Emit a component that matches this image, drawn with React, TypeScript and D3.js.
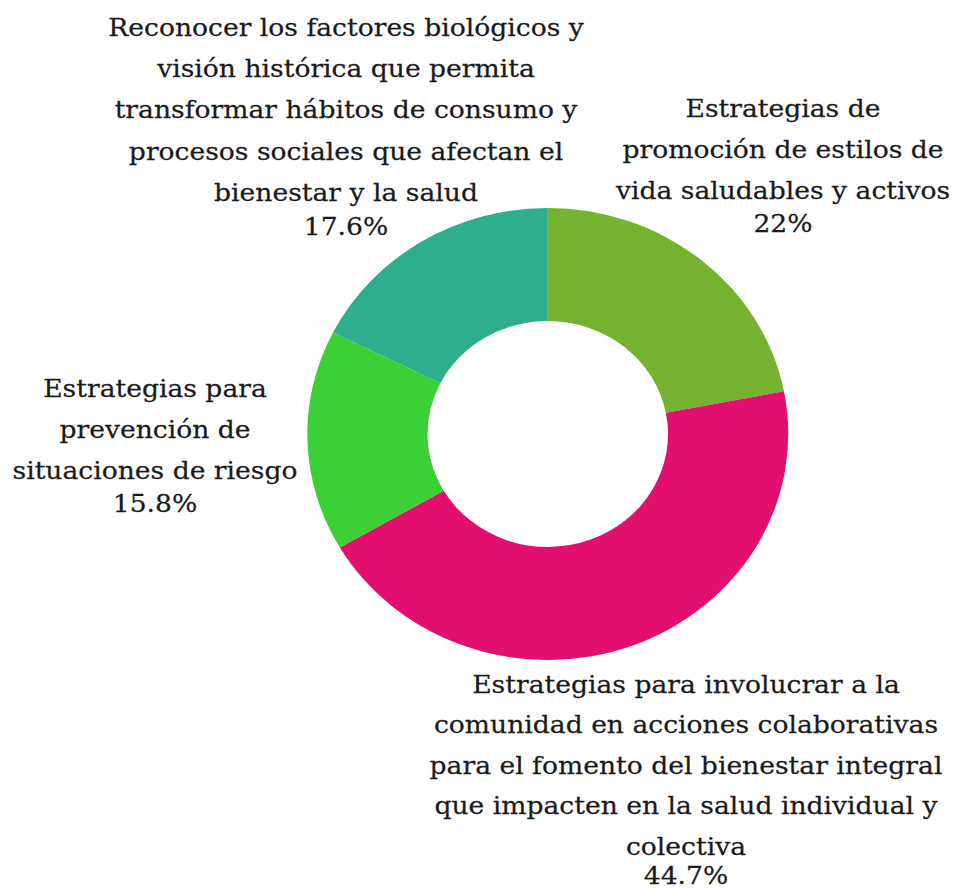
import React from "react";
import * as d3 from "d3";

const categories = [
  "Estrategias de promoción de estilos de vida saludables y activos",
  "Estrategias para involucrar a la comunidad en acciones colaborativas para el fomento del bienestar integral que impacten en la salud individual y colectiva",
  "Estrategias para prevención de situaciones de riesgo",
  "Reconocer los factores biológicos y visión histórica que permita transformar hábitos de consumo y procesos sociales que afectan el bienestar y la salud",
];
const values = [22, 44.7, 15.8, 17.6];
const valueLabels = ["22%", "44.7%", "15.8%", "17.6%"];
const labelLines = [
  ["Estrategias de", "promoción de estilos de", "vida saludables y activos"],
  [
    "Estrategias para involucrar a la",
    "comunidad en acciones colaborativas",
    "para el fomento del bienestar integral",
    "que impacten en la salud individual y",
    "colectiva",
  ],
  ["Estrategias para", "prevención de", "situaciones de riesgo"],
  [
    "Reconocer los factores biológicos y",
    "visión histórica que permita",
    "transformar hábitos de consumo y",
    "procesos sociales que afectan el",
    "bienestar y la salud",
  ],
];
const colors = ["#75B22F", "#E30F6E", "#3AD036", "#2FAE8E"];

const W = 954;
const H = 890;
const cx = 547.8;
const cy = 434;
const outerR = 226;
const innerR = 113;
const stretch = 1.064;
const fontSize = 25;

// label anchor: x centre, baseline of first line, baseline of last text line, baseline of pct line
const anchors = [
  { x: 783, firstY: 117, lastY: 199, pctY: 232 },
  { x: 686, firstY: 693, lastY: 855, pctY: 884 },
  { x: 155, firstY: 397, lastY: 479, pctY: 512 },
  { x: 346, firstY: 36, lastY: 201, pctY: 235 },
];

export default function App() {
  const pie = d3.pie<number>().sort(null).value((d) => d)(values);
  const arc = d3.arc<d3.PieArcDatum<number>>().innerRadius(innerR).outerRadius(outerR);

  return (
    <svg
      width={W}
      height={H}
      style={{ position: "absolute", left: 0, top: 0, background: "#fff" }}
      fontFamily="'DejaVu Serif', serif"
    >
      <g transform={`translate(${cx},${cy}) scale(${stretch},1)`}>
        {pie.map((p, i) => (
          <path key={categories[i]} d={arc(p) || ""} fill={colors[i]} />
        ))}
      </g>
      {labelLines.map((lines, i) => {
        const a = anchors[i];
        const n = lines.length;
        const step = (a.lastY - a.firstY) / (n - 1);
        return (
          <g
            key={i}
            transform={`translate(${a.x},0) scale(${stretch},1)`}
            fill="#1a1a1a"
            fontSize={fontSize}
            textAnchor="middle"
            stroke="#1a1a1a"
            strokeWidth={0.25}
          >
            {lines.map((l, j) => (
              <text key={j} x={0} y={a.firstY + j * step}>
                {l}
              </text>
            ))}
            <text x={0} y={a.pctY}>
              {valueLabels[i]}
            </text>
          </g>
        );
      })}
    </svg>
  );
}
